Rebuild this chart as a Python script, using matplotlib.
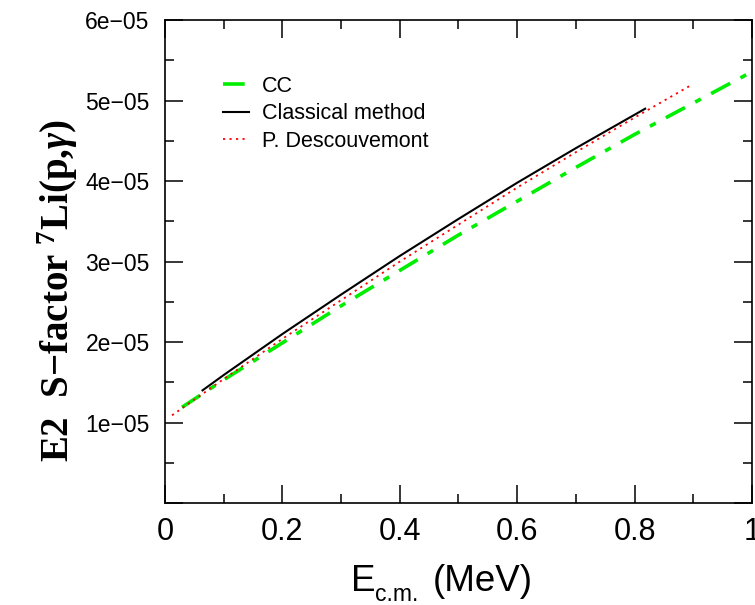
import numpy as np
import matplotlib
matplotlib.use("Agg")
import matplotlib.pyplot as plt
from matplotlib.ticker import MultipleLocator, FuncFormatter

# energies (MeV) and E2 S-factor values (units of 1e-5)
x_cc = [0.029, 0.1, 0.2, 0.3, 0.4, 0.5, 0.6, 0.7, 0.8, 0.9, 1.0]
s_cc = [1.19, 1.53, 1.99, 2.45, 2.89, 3.33, 3.75, 4.17, 4.58, 4.97, 5.36]

x_cl = [0.064, 0.1, 0.2, 0.3, 0.4, 0.5, 0.6, 0.7, 0.818]
s_cl = [1.40, 1.59, 2.10, 2.59, 3.07, 3.53, 3.98, 4.41, 4.90]

x_pd = [0.012, 0.1, 0.2, 0.3, 0.4, 0.5, 0.6, 0.7, 0.8, 0.898]
s_pd = [1.09, 1.54, 2.04, 2.52, 3.00, 3.46, 3.92, 4.36, 4.79, 5.20]

labels = ["CC", "Classical method", "P. Descouvemont"]
SCALE = 1e-5

plt.rcParams['font.family'] = ['Liberation Sans', 'DejaVu Sans']
plt.rcParams['mathtext.default'] = 'regular'
plt.rcParams['mathtext.fontset'] = 'custom'
plt.rcParams['mathtext.rm'] = 'Liberation Serif:bold'
plt.rcParams['mathtext.it'] = 'Liberation Serif:italic:bold'

W, H = 755, 605


def main():
    fig = plt.figure(figsize=(W / 100, H / 100), dpi=100)
    ax = fig.add_axes([0.2185, 0.1686, 0.7775, 0.798])

    ax.plot(x_cc, np.array(s_cc) * SCALE, color='#00ee00', lw=2.6,
            ls=(0, (6, 3.2, 1.8, 3.2)), label=labels[0], zorder=2)
    ax.plot(x_cl, np.array(s_cl) * SCALE, color='black', lw=1.5,
            label=labels[1], zorder=3)
    ax.plot(x_pd, np.array(s_pd) * SCALE, color='red', lw=1.3,
            ls=(0, (1.2, 2.4)), label=labels[2], zorder=4)

    ax.set_xlim(0, 1)
    ax.set_ylim(0, 6e-5)
    ax.xaxis.set_major_locator(MultipleLocator(0.2))
    ax.xaxis.set_minor_locator(MultipleLocator(0.1))
    ax.yaxis.set_major_locator(MultipleLocator(1e-5))
    ax.yaxis.set_minor_locator(MultipleLocator(0.5e-5))

    ax.xaxis.set_major_formatter(FuncFormatter(lambda v, p: "%g" % round(v, 3)))
    ax.yaxis.set_major_formatter(FuncFormatter(
        lambda v, p: "" if abs(v) < 1e-12 else ("%.0e" % v).replace('-', '\u2212')))

    ax.tick_params(which='both', direction='in', top=True, right=True, width=1.1)
    ax.tick_params(which='major', length=13)
    ax.tick_params(which='minor', length=6.5)
    ax.tick_params(axis='x', labelsize=22, pad=10)
    ax.tick_params(axis='y', labelsize=16.5, pad=11)
    for sp in ax.spines.values():
        sp.set_linewidth(1.2)

    # x label built from pieces so the "c.m." subscript stays compact
    fig.text(351 / W, 1 - 591 / H, 'E', fontsize=26.5, ha='left', va='baseline')
    fig.text(375 / W, 1 - 601 / H, 'c.m.', fontsize=16.5, ha='left', va='baseline')
    fig.text(433 / W, 1 - 591 / H, '(MeV)', fontsize=26.5, ha='left', va='baseline')

    ax.set_ylabel('E2  S\u2212factor $^{\\mathrm{7}}$Li(p,$\\mathit{\\gamma}$)',
                  fontsize=28, fontfamily='Liberation Serif', fontweight='bold')
    ax.yaxis.set_label_coords(-0.145, 0.44)

    ax.legend(loc='upper left', bbox_to_anchor=(0.099, 0.885), frameon=False,
              fontsize=15.5, handlelength=1.2, handletextpad=0.6,
              labelspacing=0.3, borderpad=0, borderaxespad=0)

    fig.savefig("out.png", dpi=100)


if __name__ == "__main__":
    main()
